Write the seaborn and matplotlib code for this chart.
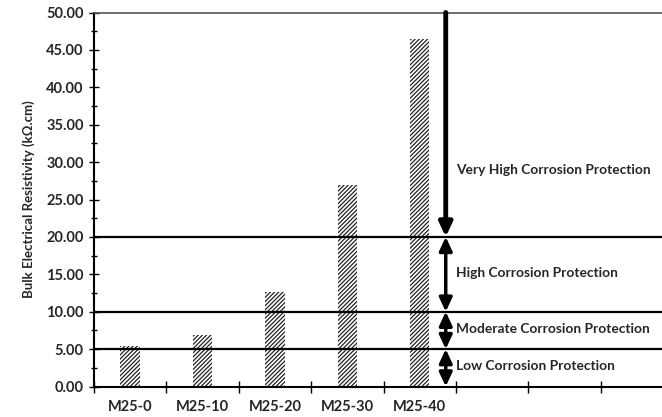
import numpy as np
import pandas as pd
import matplotlib
matplotlib.use("Agg")
import matplotlib.pyplot as plt
import seaborn as sns
from matplotlib.ticker import MultipleLocator, FixedLocator

# data
mixes = ["M25-0", "M25-10", "M25-20", "M25-30", "M25-40"]
resistivity = [5.45, 6.9, 12.6, 27.0, 46.4]

# corrosion protection bands (kOhm.cm)
band_limits = [5, 10, 20]
band_names = ["Low Corrosion Protection", "Moderate Corrosion Protection",
              "High Corrosion Protection", "Very High Corrosion Protection"]
band_lo = [0, 5, 10, 20]
band_hi = [5, 10, 20, 50]
label_y = [2.7, 7.75, 15.2, 28.9]

n_slots = 8  # the axis runs on past the last mix

sns.set_theme(style="white")
plt.rcParams["font.family"] = ["Lato", "DejaVu Sans"]
plt.rcParams["hatch.linewidth"] = 0.9

df = pd.DataFrame({"Mix": mixes, "Resistivity": resistivity})

fig = plt.figure(figsize=(6.62, 4.17), dpi=100)
ax = fig.add_axes([94 / 662, 30.5 / 417, 579 / 662, 374 / 417])

sns.barplot(data=df, x="Mix", y="Resistivity", color="white", edgecolor="#222222",
            linewidth=0, hatch="////////", width=0.27, ax=ax)

for y in band_limits:
    ax.axhline(y, color="black", lw=1.6, zorder=3)

arrow_x = 4.36
text_x = 4.50
for lo, hi, name, ty in zip(band_lo, band_hi, band_names, label_y):
    style = "-|>" if hi == 50 else "<|-|>"
    ax.annotate("", xy=(arrow_x, lo), xytext=(arrow_x, hi),
                arrowprops=dict(arrowstyle=style + ",head_length=0.75,head_width=0.35",
                                mutation_scale=11,
                                color="black", lw=3.5 if hi == 50 else 2.5, shrinkA=0, shrinkB=0),
                zorder=4, annotation_clip=False)
    ax.text(text_x, ty, name, fontsize=9.9, fontweight="bold", va="center", ha="left")

ax.set_xlim(-0.5, n_slots - 0.5)
ax.set_ylim(0, 50)
ax.yaxis.set_major_locator(MultipleLocator(5))
ax.yaxis.set_minor_locator(MultipleLocator(2.5))
ax.set_yticklabels([f"{v:.2f}" for v in ax.get_yticks()], fontweight="bold", fontsize=10.5)

ax.set_xticks(range(len(mixes)))
ax.set_xticklabels(mixes, fontweight="bold", fontsize=10.5)
ax.xaxis.set_minor_locator(FixedLocator(np.arange(-0.5, n_slots, 1)))
ax.tick_params(axis="x", which="major", length=0, pad=10)
ax.tick_params(axis="x", which="minor", bottom=True, length=8, width=1, direction="inout", color="black")
ax.tick_params(axis="y", which="both", left=True, length=7, width=1, direction="inout", color="black", pad=4)
ax.tick_params(axis="y", which="minor", length=5)

ax.set_xlabel("")
ax.set_ylabel("Bulk Electrical Resistivity (k\u03a9.cm)", fontsize=9.5, fontweight="bold", labelpad=8)

for side in ["left", "bottom"]:
    ax.spines[side].set_color("black")
    ax.spines[side].set_linewidth(1.5)
ax.spines["top"].set_color("#555555")
ax.spines["top"].set_linewidth(1.2)
ax.spines["right"].set_visible(False)

fig.savefig("out.png", dpi=100)
